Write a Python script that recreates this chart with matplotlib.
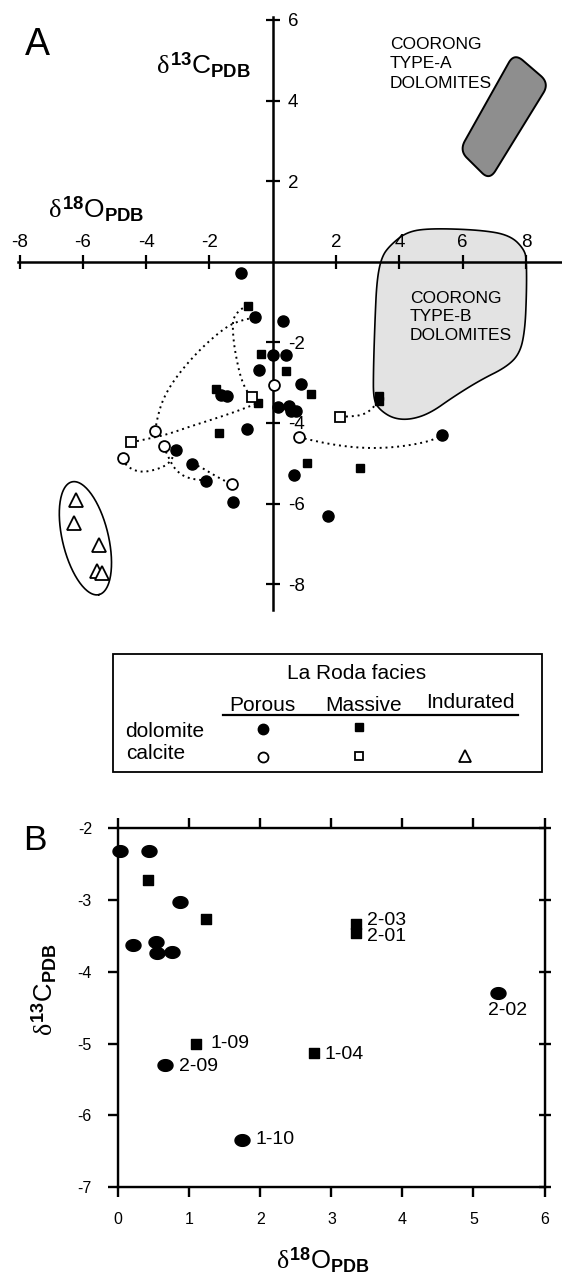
import numpy as np
import matplotlib
matplotlib.use("Agg")
import matplotlib.pyplot as plt
from matplotlib.path import Path
from matplotlib.patches import Polygon, Rectangle

plt.rcParams['font.family'] = ['Liberation Sans', 'DejaVu Sans']
plt.rcParams['axes.unicode_minus'] = False
plt.rcParams['mathtext.fontset'] = 'custom'
plt.rcParams['mathtext.rm'] = 'Liberation Sans'
plt.rcParams['mathtext.bf'] = 'Liberation Sans:bold'
plt.rcParams['mathtext.it'] = 'Liberation Serif'

# ---- panel A data (d18O, d13C) ----
dol_porous_x = [-1.01, -0.55, 0.33, 0.0, 0.41, -0.45, 0.88, -1.62, -1.45, 0.18, 0.52, 0.57, 0.75,
                -0.82, 5.34, -3.06, -2.55, -2.12, 0.66, -1.27, 1.73]
dol_porous_y = [-0.28, -1.38, -1.47, -2.31, -2.32, -2.68, -3.03, -3.30, -3.32, -3.61, -3.57, -3.71, -3.71,
                -4.14, -4.29, -4.67, -5.02, -5.43, -5.29, -5.96, -6.32]
dol_massive_x = [-0.77, -0.38, 0.42, -1.80, 1.22, -0.48, 3.36, 3.36, -1.70, 1.09, 2.76]
dol_massive_y = [-1.11, -2.28, -2.70, -3.15, -3.28, -3.51, -3.33, -3.45, -4.25, -5.00, -5.12]
cal_porous_x = [0.03, -3.71, -3.45, -4.73, 0.83, -1.30]
cal_porous_y = [-3.05, -4.20, -4.58, -4.88, -4.35, -5.52]
cal_massive_x = [-0.66, -4.47, 2.13]
cal_massive_y = [-3.35, -4.48, -3.84]
cal_indurated_x = [-6.23, -6.29, -5.49, -5.55, -5.41]
cal_indurated_y = [-5.90, -6.48, -7.03, -7.67, -7.73]

# dotted tie lines between samples
tie_lines = [
    [(-3.71, -4.20), (-3.67, -3.96), (-3.52, -3.51), (-3.25, -3.09), (-2.83, -2.64), (-2.30, -2.18),
     (-1.78, -1.81), (-1.35, -1.56), (-0.93, -1.44), (-0.55, -1.38)],
    [(-0.77, -1.11), (-0.98, -1.15), (-1.23, -1.36), (-1.27, -1.60), (-1.23, -2.02), (-1.14, -2.43),
     (-1.02, -2.85), (-0.85, -3.18), (-0.66, -3.35)],
    [(-4.47, -4.48), (-3.99, -4.40), (-3.36, -4.29), (-2.62, -4.09), (-1.78, -3.88), (-1.14, -3.71),
     (-0.48, -3.51)],
    [(-4.73, -4.88), (-4.62, -5.08), (-4.20, -5.23), (-3.67, -5.16), (-3.25, -5.00), (-3.06, -4.67)],
    [(-3.45, -4.58), (-3.31, -4.83), (-3.09, -5.16), (-2.72, -5.37), (-2.12, -5.43)],
    [(-2.55, -5.02), (-2.30, -5.08), (-1.78, -5.33), (-1.30, -5.52)],
    [(2.13, -3.84), (2.44, -3.84), (2.86, -3.80), (3.18, -3.63), (3.36, -3.38)],
    [(0.83, -4.35), (1.18, -4.42), (1.91, -4.54), (2.76, -4.62), (3.60, -4.62), (4.45, -4.54),
     (5.08, -4.42), (5.34, -4.29)],
]

# Coorong fields
typeA_corners = [(7.63, 5.18), (8.74, 4.43), (6.85, 2.02), (5.90, 2.76)]
typeB_outline = [(3.71, 0.41), (4.23, 0.74), (4.97, 0.83), (6.55, 0.79), (7.50, 0.66), (7.97, 0.29),
                 (8.02, -0.04), (8.02, -0.78), (7.97, -1.69), (7.81, -2.27), (7.39, -2.61), (6.55, -2.94),
                 (5.71, -3.35), (4.97, -3.76), (4.34, -3.92), (3.81, -3.89), (3.39, -3.68), (3.18, -3.43),
                 (3.18, -2.69), (3.23, -1.45), (3.29, -0.45), (3.44, 0.12)]

# ---- panel B data ----
b_dol_porous_x = [0.02, 0.43, 0.87, 0.20, 0.53, 0.54, 0.75, 5.35, 0.66, 1.74]
b_dol_porous_y = [-2.32, -2.32, -3.03, -3.63, -3.58, -3.74, -3.72, -4.29, -5.30, -6.34]
b_dol_massive_x = [0.42, 1.24, 3.34, 3.34, 1.10, 2.75]
b_dol_massive_y = [-2.72, -3.27, -3.33, -3.46, -5.01, -5.13]
b_labels = ['2-03', '2-01', '2-02', '1-09', '1-04', '2-09', '1-10']
b_label_x = [3.34, 3.34, 5.35, 1.10, 2.75, 0.66, 1.74]
b_label_y = [-3.33, -3.46, -4.29, -5.01, -5.13, -5.30, -6.34]

lab13C = r'$\delta^{\mathbf{13}}\mathrm{C}_{\mathbf{PDB}}$'
lab18O = r'$\delta^{\mathbf{18}}\mathrm{O}_{\mathbf{PDB}}$'

W, H = 562, 1275
fig = plt.figure(figsize=(W / 100, H / 100), dpi=100)


def box(l, t, r, b):
    return [l / W, 1 - b / H, (r - l) / W, (b - t) / H]


def chaikin(pts, n=3, closed=False):
    p = np.asarray(pts, float)
    for _ in range(n):
        a = p if closed else p[:-1]
        b = np.roll(p, -1, axis=0) if closed else p[1:]
        q = np.empty((2 * len(a), 2))
        q[0::2] = 0.75 * a + 0.25 * b
        q[1::2] = 0.25 * a + 0.75 * b
        if not closed:
            q = np.vstack([p[0], q, p[-1]])
        p = q
    return p


def subdivide(corners, counts):
    c = np.asarray(corners, float)
    out = []
    for i, k in enumerate(counts):
        a, b = c[i], c[(i + 1) % len(c)]
        for t in np.arange(k) / k:
            out.append(a + (b - a) * t)
    return np.array(out)


# ================= panel A =================
axA = fig.add_axes(box(18, 16.7, 562, 610))
axA.set_xlim(-8.05, 9.14)
axA.set_ylim(-8.64, 6.08)
axA.patch.set_visible(False)
axA.spines['left'].set_visible(False)
axA.spines['bottom'].set_visible(False)
axA.spines['top'].set_position(('data', 0))
axA.spines['right'].set_position(('data', 0))
for s in ['top', 'right']:
    axA.spines[s].set_linewidth(1.8)
axA.xaxis.set_ticks_position('top')
axA.yaxis.set_ticks_position('right')
axA.set_xticks([-8, -6, -4, -2, 2, 4, 6, 8])
axA.set_yticks([-8, -6, -4, -2, 2, 4, 6])
axA.tick_params(direction='inout', length=10, width=1.6, labelsize=13.5)
axA.tick_params(axis='x', pad=2.5)
axA.tick_params(axis='y', pad=6)

rectA = chaikin(subdivide(typeA_corners, [2, 5, 2, 5]), 4, closed=True)
axA.add_patch(Polygon(rectA, closed=True, facecolor='#8e8e8e', edgecolor='black', lw=1.4, zorder=1))
blobB = chaikin(typeB_outline, 3, closed=True)
axA.add_patch(Polygon(blobB, closed=True, facecolor='#e3e3e3', edgecolor='black', lw=1.2, zorder=0.5))

# ellipse round the indurated calcites (drawn in screen-like units)
t = np.linspace(0, 2 * np.pi, 200)
ux, uy, vx, vy = 0.233, 0.972, 0.972, -0.233
ex = -5.92 + (58 * np.cos(t) * ux + 23 * np.sin(t) * vx) / 31.67
ey = -6.86 - (58 * np.cos(t) * uy + 23 * np.sin(t) * vy) / 40.3
axA.plot(ex, ey, color='black', lw=1.2, zorder=2)

for line in tie_lines:
    sm = chaikin(line, 3)
    axA.plot(sm[:, 0], sm[:, 1], color='black', lw=1.4, ls=(0, (1, 2)), zorder=2)

axA.plot(dol_porous_x, dol_porous_y, 'o', ls='none', ms=8, color='black', zorder=4)
axA.plot(dol_massive_x, dol_massive_y, 's', ls='none', ms=6.4, color='black', zorder=4)
axA.plot(cal_porous_x, cal_porous_y, 'o', ls='none', ms=7.8, mfc='white', mec='black', mew=1.3, zorder=5)
axA.plot(cal_massive_x, cal_massive_y, 's', ls='none', ms=6.5, mfc='white', mec='black', mew=1.3, zorder=5)
axA.plot(cal_indurated_x, cal_indurated_y, '^', ls='none', ms=9.5, mfc='white', mec='black', mew=1.3, zorder=5)

# ================= panel B =================
axB = fig.add_axes(box(118.3, 828.3, 544.5, 1187))
axB.set_xlim(0, 6)
axB.set_ylim(-7, -2)
for s in axB.spines.values():
    s.set_linewidth(1.7)
axB.set_xticks(range(0, 7))
axB.set_yticks(range(-7, -1))
axB.tick_params(axis='x', top=True, direction='out', length=7, width=1.7, labelsize=11.5, pad=11)
axB.tick_params(axis='y', direction='out', length=7, width=1.7, labelsize=11.5, pad=12)
axR = axB.twinx()
axR.set_ylim(-7, -2)
axR.set_yticks(range(-7, -1))
axR.tick_params(direction='inout', length=9, width=1.7, labelright=False)

th = np.linspace(0, 2 * np.pi, 60)
oval = Path(np.column_stack([1.28 * np.cos(th), np.sin(th)]), closed=True)
wide_sq = Path([[-1.17, -1], [1.17, -1], [1.17, 1], [-1.17, 1], [-1.17, -1]], closed=True)
axB.plot(b_dol_porous_x, b_dol_porous_y, marker=oval, ls='none', ms=10.8, color='black',
         clip_on=False, zorder=4)
axB.plot(b_dol_massive_x, b_dol_massive_y, marker=wide_sq, ls='none', ms=7.6, color='black',
         clip_on=False, zorder=4)

offsets = [(11.9, 3.7, 'left'), (11.9, -3.7, 'left'), (9, -17.5, 'center'), (14.4, 0.8, 'left'),
           (10.8, -1.3, 'left'), (14, -1, 'left'), (13.7, 0, 'left')]
for lab, x, y, (dx, dy, ha) in zip(b_labels, b_label_x, b_label_y, offsets):
    axB.annotate(lab, (x, y), xytext=(dx * 0.72, dy * 0.72), textcoords='offset points',
                 ha=ha, va='center', fontsize=14)

# ================= overlay (labels, legend) =================
ov = fig.add_axes([0, 0, 1, 1])
ov.set_xlim(0, W)
ov.set_ylim(H, 0)
ov.axis('off')

ov.text(25, 55, 'A', fontsize=27, va='baseline')
ov.text(23, 850, 'B', fontsize=25.5, va='baseline')
ov.text(156, 74, lab13C, fontsize=19, va='baseline')
ov.text(48, 217.5, lab18O, fontsize=19, va='baseline')
ov.text(322.6, 1269, lab18O, fontsize=18.5, ha='center', va='baseline')
ov.text(44, 990, lab13C, fontsize=18.5, rotation=90, ha='center', va='center')

for txt, yb in zip(['COORONG', 'TYPE-A', 'DOLOMITES'], [49.3, 68.3, 88.3]):
    ov.text(390, yb, txt, fontsize=12.5, va='baseline')
for txt, yb in zip(['COORONG', 'TYPE-B', 'DOLOMITES'], [302.7, 320.7, 340]):
    ov.text(410, yb, txt, fontsize=12.5, va='baseline')

# legend
ov.add_patch(Rectangle((112.7, 654), 429, 117.7, fill=False, lw=1.3, edgecolor='black'))
ov.text(356.7, 679.3, 'La Roda facies', fontsize=15, ha='center', va='baseline')
ov.text(262, 710.7, 'Porous', fontsize=15, ha='center', va='baseline')
ov.text(364, 710.7, 'Massive', fontsize=15, ha='center', va='baseline')
ov.text(470.7, 708.3, 'Indurated', fontsize=15, ha='center', va='baseline')
ov.plot([223.3, 518.3], [715, 715], color='black', lw=1.6)
ov.text(125, 736.7, 'dolomite', fontsize=15, va='baseline')
ov.text(126, 759.3, 'calcite', fontsize=15, va='baseline')
ov.plot([262.7], [729.3], 'o', ms=7.5, color='black')
ov.plot([359.3], [727.3], 's', ms=5.8, color='black')
ov.plot([262.7], [756.7], 'o', ms=7.2, mfc='white', mec='black', mew=1.3)
ov.plot([359.3], [756], 's', ms=6.2, mfc='white', mec='black', mew=1.3)
ov.plot([465], [756], '^', ms=8.5, mfc='white', mec='black', mew=1.3)

fig.savefig('out.png', dpi=100)
